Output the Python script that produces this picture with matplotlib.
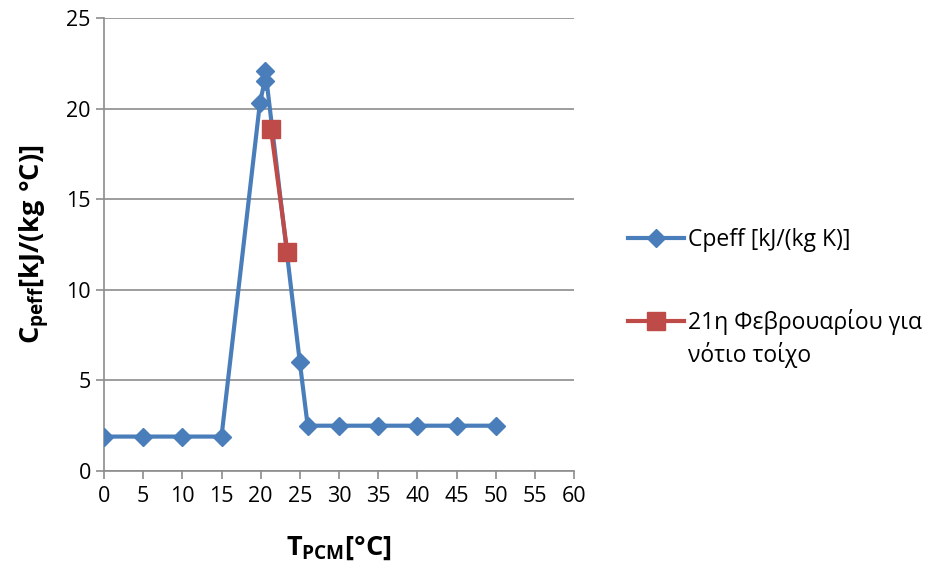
import matplotlib.pyplot as plt

plt.rcParams['font.family'] = ['Open Sans', 'DejaVu Sans']
plt.rcParams['mathtext.fontset'] = 'custom'
plt.rcParams['mathtext.rm'] = 'Open Sans'
plt.rcParams['mathtext.bf'] = 'Open Sans:bold'

# blue series: Cpeff vs T
t_cpeff = [0, 5, 10, 15, 19.9, 20.5, 20.6, 25, 26, 30, 35, 40, 45, 50]
cpeff = [1.9, 1.9, 1.9, 1.9, 20.3, 21.5, 22.1, 6.0, 2.5, 2.5, 2.5, 2.5, 2.5, 2.5]

# red series: 21 February, south wall
t_feb = [21.3, 23.4]
c_feb = [18.9, 12.1]

blue = '#4A7EBB'
red = '#BE4B48'
grid_c = '#8C8C8C'
W, H = 933, 572

fig = plt.figure(figsize=(W / 100, H / 100), dpi=100)
ax = fig.add_axes([104 / W, 1 - 471 / H, 470 / W, 453 / H])

h1, = ax.plot(t_cpeff, cpeff, color=blue, lw=3, marker='D', ms=9, mfc=blue, mec=blue,
              label='Cpeff [kJ/(kg K)]', zorder=3)
h2, = ax.plot(t_feb, c_feb, color=red, lw=3, marker='s', ms=13, mfc=red, mec=red,
              label='21η Φεβρουαρίου για', zorder=4)

ax.set_xlim(0, 60)
ax.set_ylim(0, 25)
ax.set_xticks(range(0, 61, 5))
ax.set_yticks(range(0, 26, 5))
ax.yaxis.grid(True, color=grid_c, lw=1.2)
ax.set_axisbelow(True)
for s in ['top', 'right']:
    ax.spines[s].set_visible(False)
for s in ['left', 'bottom']:
    ax.spines[s].set_color(grid_c)
    ax.spines[s].set_linewidth(1.2)
ax.tick_params(axis='both', labelsize=15.5, color=grid_c, length=6, width=1.2, direction='out')
ax.tick_params(axis='x', pad=5)

ax.set_xlabel(r'$\mathbf{T_{PCM}[°C]}$', fontsize=19.5, labelpad=19)
ax.set_ylabel(r'$\mathbf{C_{peff}[kJ/(kg\ °C)]}$', fontsize=19.5, labelpad=10)

# legend entries, one per series
for h, yc in [(h1, 240), (h2, 322)]:
    fig.legend(handles=[h], loc='center left', bbox_to_anchor=(628 / W, 1 - yc / H),
               frameon=False, fontsize=16.5, handlelength=2.45, handletextpad=0.15,
               borderpad=0, borderaxespad=0)
fig.text(688 / W, 1 - 355 / H, 'νότιο τοίχο', fontsize=16.5, va='center', ha='left')

fig.savefig('out.png', dpi=100)
